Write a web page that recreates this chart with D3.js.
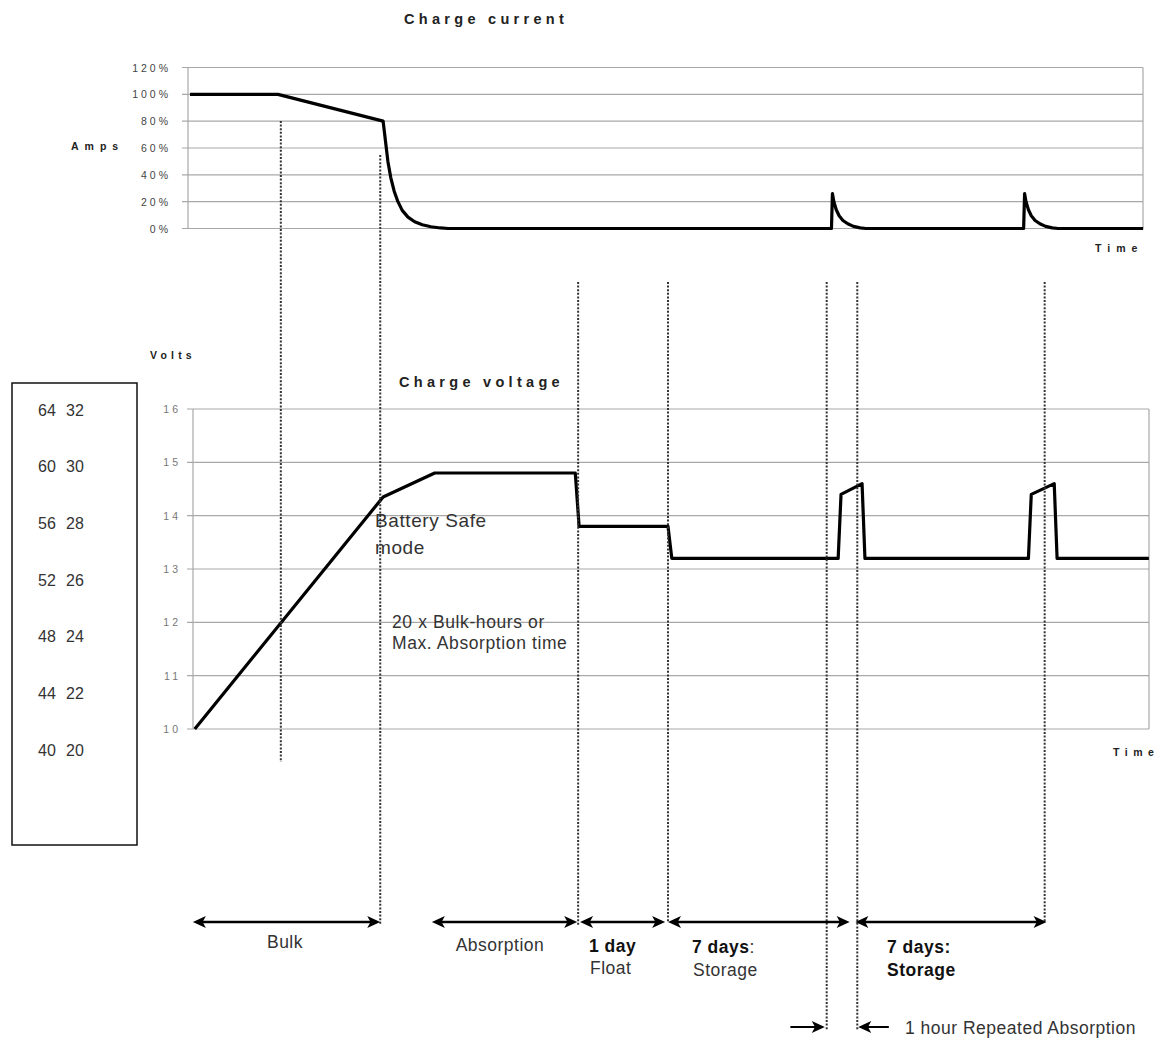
<!DOCTYPE html>
<html>
<head>
<meta charset="utf-8">
<script src="https://cdn.jsdelivr.net/npm/d3@7"></script>
<style>
  body { margin: 0; background: #fff; }
  text { font-family: Arial, "Liberation Sans", sans-serif; }
</style>
</head>
<body>
<script>
const width = 1162;
const height = 1040;

// time is in arbitrary units 0..100 across the chart
var currentTicks = [0, 20, 40, 60, 80, 100, 120];
var voltTicks = [10, 11, 12, 13, 14, 15, 16];

// charge current (% of max) over time
var currentTime = [0, 9.2, 20.2, 20.45, 20.7, 21.0, 21.35, 21.75, 22.2, 22.8, 23.5, 24.3, 25.2, 26.2, 27.0,
                   67.1, 67.2, 67.35, 67.6, 67.9, 68.3, 68.8, 69.4, 70.1, 70.7,
                   87.2, 87.3, 87.45, 87.7, 88.0, 88.4, 88.9, 89.5, 90.2, 90.8, 99.7];
var currentPct = [100, 100, 80, 65, 50, 38, 28, 20, 13.5, 8.5, 5, 2.8, 1.3, 0.4, 0,
                  0, 26, 20, 14, 9.5, 6, 3.5, 1.6, 0.5, 0,
                  0, 26, 20, 14, 9.5, 6, 3.5, 1.6, 0.5, 0, 0];

// charge voltage (12V system) over time
var voltTime = [0.5, 20.2, 25.6, 40.3, 40.7, 50.0, 50.4, 67.8, 68.1, 70.3, 70.6,
                87.7, 88.0, 90.4, 90.7, 100.3];
var voltValue = [10, 14.35, 14.8, 14.8, 13.8, 13.8, 13.2, 13.2, 14.4, 14.6, 13.2,
                 13.2, 14.4, 14.6, 13.2, 13.2];

// 48V and 24V equivalents shown in the left box
var volts48 = [64, 60, 56, 52, 48, 44, 40];
var volts24 = [32, 30, 28, 26, 24, 22, 20];

// phase boundary markers (time, top end px, bottom end px)
var markerTime = [9.5, 19.9, 40.6, 50.0, 66.6, 69.8, 89.4];
var markerTop = [121, 155, 282, 282, 282, 282, 282];
var markerBottom = [762, 925, 925, 922, 1030, 1030, 922];

// phase arrows
var phaseStart = [0.3, 25.3, 40.8, 50.0, 69.6];
var phaseEnd = [19.9, 40.5, 49.7, 69.0, 89.6];

var svg = d3.select("body")
  .append("svg")
  .attr("width", width)
  .attr("height", height);

var x = d3.scaleLinear().domain([0, 100]).range([190, 1146]);
var yTop = d3.scaleLinear().domain([0, 120]).range([228.5, 67.5]);
var yVolt = d3.scaleLinear().domain([10, 16]).range([729, 409]);

var grid = "#a8a8a8";

// ---- top chart: charge current ----
var topLeft = 188, topRight = 1143;

svg.selectAll(".gridTop")
  .data(currentTicks)
  .enter()
  .append("line")
  .attr("x1", topLeft - 6)
  .attr("x2", topRight)
  .attr("y1", d => yTop(d))
  .attr("y2", d => yTop(d))
  .attr("stroke", grid)
  .attr("stroke-width", 1.2);

svg.append("line")
  .attr("x1", topLeft).attr("x2", topLeft)
  .attr("y1", yTop(120)).attr("y2", yTop(0))
  .attr("stroke", grid).attr("stroke-width", 1.2);
svg.append("line")
  .attr("x1", topRight).attr("x2", topRight)
  .attr("y1", yTop(120)).attr("y2", yTop(0))
  .attr("stroke", grid).attr("stroke-width", 1.2);

svg.selectAll(".tickTop")
  .data(currentTicks)
  .enter()
  .append("text")
  .attr("x", 171)
  .attr("y", d => yTop(d) + 4)
  .attr("text-anchor", "end")
  .attr("font-size", 10.5)
  .attr("letter-spacing", 3)
  .attr("fill", "#444")
  .text(d => d + "%");

svg.append("text")
  .attr("x", 404).attr("y", 24)
  .attr("font-size", 14.5)
  .attr("font-weight", "bold")
  .attr("letter-spacing", 4.3)
  .attr("fill", "#222")
  .text("Charge current");

svg.append("text")
  .attr("x", 71).attr("y", 150)
  .attr("font-size", 10.5)
  .attr("font-weight", "bold")
  .attr("letter-spacing", 6)
  .attr("fill", "#222")
  .text("Amps");

svg.append("text")
  .attr("x", 1095).attr("y", 252)
  .attr("font-size", 10.5)
  .attr("font-weight", "bold")
  .attr("letter-spacing", 6)
  .attr("fill", "#222")
  .text("Time");

var currentLine = d3.line()
  .x((d, i) => x(currentTime[i]))
  .y(d => yTop(d));

svg.append("path")
  .attr("d", currentLine(currentPct))
  .attr("fill", "none")
  .attr("stroke", "#000")
  .attr("stroke-width", 3.2)
  .attr("stroke-linejoin", "round");

// ---- lower chart: charge voltage ----
var botLeft = 193, botRight = 1149;

svg.selectAll(".gridVolt")
  .data(voltTicks)
  .enter()
  .append("line")
  .attr("x1", botLeft - 6)
  .attr("x2", botRight)
  .attr("y1", d => yVolt(d))
  .attr("y2", d => yVolt(d))
  .attr("stroke", grid)
  .attr("stroke-width", 1.2);

svg.append("line")
  .attr("x1", botLeft).attr("x2", botLeft)
  .attr("y1", yVolt(16)).attr("y2", yVolt(10))
  .attr("stroke", grid).attr("stroke-width", 1.2);
svg.append("line")
  .attr("x1", botRight).attr("x2", botRight)
  .attr("y1", yVolt(16)).attr("y2", yVolt(10))
  .attr("stroke", grid).attr("stroke-width", 1.2);

svg.selectAll(".tickVolt")
  .data(voltTicks)
  .enter()
  .append("text")
  .attr("x", 181)
  .attr("y", d => yVolt(d) + 4)
  .attr("text-anchor", "end")
  .attr("font-size", 10.5)
  .attr("letter-spacing", 3)
  .attr("fill", "#777")
  .text(d => d);

svg.append("text")
  .attr("x", 150).attr("y", 359)
  .attr("font-size", 10.5)
  .attr("font-weight", "bold")
  .attr("letter-spacing", 4.2)
  .attr("fill", "#222")
  .text("Volts");

svg.append("text")
  .attr("x", 399).attr("y", 387)
  .attr("font-size", 14.5)
  .attr("font-weight", "bold")
  .attr("letter-spacing", 4.3)
  .attr("fill", "#222")
  .text("Charge voltage");

svg.append("text")
  .attr("x", 1113).attr("y", 756)
  .attr("font-size", 10.5)
  .attr("font-weight", "bold")
  .attr("letter-spacing", 5.5)
  .attr("fill", "#222")
  .text("Time");

var voltLine = d3.line()
  .x((d, i) => x(voltTime[i]))
  .y(d => yVolt(d));

svg.append("path")
  .attr("d", voltLine(voltValue))
  .attr("fill", "none")
  .attr("stroke", "#000")
  .attr("stroke-width", 3.2)
  .attr("stroke-linejoin", "round");

// ---- left box with 48V / 24V equivalents ----
svg.append("rect")
  .attr("x", 12).attr("y", 383)
  .attr("width", 125).attr("height", 462)
  .attr("fill", "none")
  .attr("stroke", "#111")
  .attr("stroke-width", 1.5);

var yBox = d3.scaleLinear().domain([64, 40]).range([410, 750]);

svg.selectAll(".box48")
  .data(volts48)
  .enter()
  .append("text")
  .attr("x", 38)
  .attr("y", d => yBox(d) + 5.5)
  .attr("font-size", 16)
  .attr("fill", "#333")
  .text(d => d);

svg.selectAll(".box24")
  .data(volts24)
  .enter()
  .append("text")
  .attr("x", 66)
  .attr("y", (d, i) => yBox(volts48[i]) + 5.5)
  .attr("font-size", 16)
  .attr("fill", "#333")
  .text(d => d);

// ---- annotations ----
var note = svg.append("g").attr("fill", "#333");
note.append("text").attr("x", 375).attr("y", 527).attr("font-size", 19).attr("letter-spacing", 0.6).text("Battery Safe");
note.append("text").attr("x", 375).attr("y", 554).attr("font-size", 19).attr("letter-spacing", 0.6).text("mode");
note.append("text").attr("x", 392).attr("y", 628).attr("font-size", 17.5).attr("letter-spacing", 0.6).text("20 x Bulk-hours or");
note.append("text").attr("x", 392).attr("y", 649).attr("font-size", 17.5).attr("letter-spacing", 0.6).text("Max. Absorption time");

// ---- dotted phase markers ----
svg.selectAll(".marker")
  .data(markerTime)
  .enter()
  .append("line")
  .attr("x1", d => x(d))
  .attr("x2", d => x(d))
  .attr("y1", (d, i) => markerTop[i])
  .attr("y2", (d, i) => markerBottom[i])
  .attr("stroke", "#333")
  .attr("stroke-width", 2)
  .attr("stroke-dasharray", "2,1.6");

// ---- phase arrows ----
function arrowHead(px, py, dir) {
  // dir = 1 points right, -1 points left
  var len = 13, half = 6;
  return "M" + px + "," + py +
    "L" + (px - dir * len) + "," + (py - half) +
    "L" + (px - dir * len * 0.75) + "," + py +
    "L" + (px - dir * len) + "," + (py + half) + "Z";
}

var arrowY = 922;
phaseStart.forEach(function(s, i) {
  var x0 = x(s), x1 = x(phaseEnd[i]);
  svg.append("line")
    .attr("x1", x0 + 4).attr("x2", x1 - 4)
    .attr("y1", arrowY).attr("y2", arrowY)
    .attr("stroke", "#000").attr("stroke-width", 2.5);
  svg.append("path").attr("d", arrowHead(x0, arrowY, -1)).attr("fill", "#000");
  svg.append("path").attr("d", arrowHead(x1, arrowY, 1)).attr("fill", "#000");
});

// small arrows marking the 1 hour repeated absorption
var smallY = 1027;
svg.append("line")
  .attr("x1", x(62.8)).attr("x2", x(66.2))
  .attr("y1", smallY).attr("y2", smallY)
  .attr("stroke", "#000").attr("stroke-width", 2);
svg.append("path").attr("d", arrowHead(x(66.4), smallY, 1)).attr("fill", "#000");
svg.append("line")
  .attr("x1", x(73.1)).attr("x2", x(70.1))
  .attr("y1", smallY).attr("y2", smallY)
  .attr("stroke", "#000").attr("stroke-width", 2);
svg.append("path").attr("d", arrowHead(x(69.9), smallY, -1)).attr("fill", "#000");

// ---- phase labels ----
var lab = svg.append("g").attr("fill", "#333").attr("font-size", 17.5).attr("letter-spacing", 0.5);
lab.append("text").attr("x", 285).attr("y", 948).attr("text-anchor", "middle").text("Bulk");
lab.append("text").attr("x", 500).attr("y", 951).attr("text-anchor", "middle").text("Absorption");
lab.append("text").attr("x", 589).attr("y", 952).attr("font-weight", "bold").attr("fill", "#111").text("1 day");
lab.append("text").attr("x", 590).attr("y", 974).text("Float");

var t1 = lab.append("text").attr("x", 692).attr("y", 953);
t1.append("tspan").attr("font-weight", "bold").attr("fill", "#111").text("7 days");
t1.append("tspan").text(":");
lab.append("text").attr("x", 693).attr("y", 976).text("Storage");

lab.append("text").attr("x", 887).attr("y", 953).attr("font-weight", "bold").attr("fill", "#111").text("7 days:");
lab.append("text").attr("x", 887).attr("y", 976).attr("font-weight", "bold").attr("fill", "#111").text("Storage");

lab.append("text").attr("x", 905).attr("y", 1034).text("1 hour Repeated Absorption");
</script>
</body>
</html>
